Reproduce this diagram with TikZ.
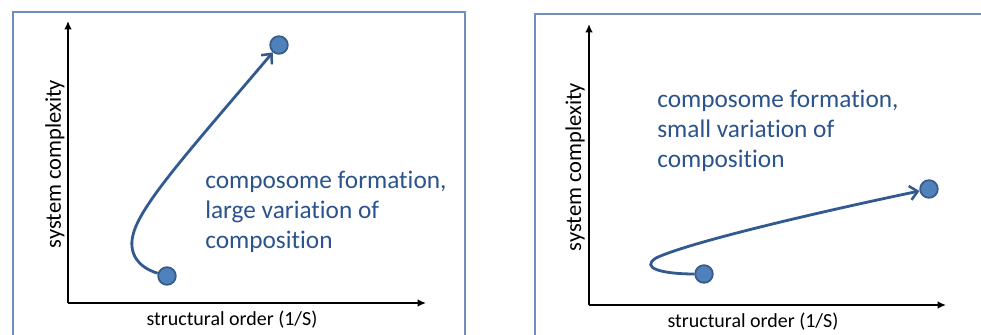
\documentclass[tikz,border=0pt]{standalone}
\usepackage{fontspec}
\setmainfont{Carlito}[Ligatures=NoCommon]
\usepackage{tikz}
\usetikzlibrary{arrows.meta}
\definecolor{framecol}{RGB}{112,142,186}
\definecolor{dotfill}{RGB}{79,129,189}
\definecolor{dotline}{RGB}{56,93,138}
\definecolor{pathcol}{RGB}{50,90,145}
\definecolor{notecol}{RGB}{44,84,140}
\tikzset{
    frame/.style={draw=framecol, line width=1.4pt},
    axis/.style={draw=black, line width=1.4pt, -{Latex[length=6pt,width=5.5pt]}},
    statedot/.style={circle, fill=dotfill, draw=dotline, line width=1.3pt,
        minimum size=12.5pt, inner sep=0pt},
    pathway/.style={draw=pathcol, line width=2pt,
        -{Straight Barb[length=5.5pt,width=10pt,line width=1.8pt]}},
    ylabel/.style={font=\fontsize{16}{19}\selectfont, inner sep=0pt},
    xlabel/.style={font=\fontsize{14.2}{17}\selectfont, inner sep=0pt},
    note/.style={text=notecol, align=left, anchor=west, inner sep=0pt,
        font=\fontsize{18}{21.3}\selectfont},
}
\begin{document}
\begin{tikzpicture}[x=0.025cm, y=-0.025cm]
		\useasboundingbox[fill=white] (0,0) rectangle (981,335);
		% left panel
		\draw[frame] (13,340) -- (13,12) -- (465,12) -- (465,340);
		\coordinate (o1) at (68,303);
		\coordinate (ytop1) at (68,21);
		\coordinate (xend1) at (426,303);
		\draw[axis] (o1) -- (ytop1);
		\draw[axis] (o1) -- (xend1);
		\node[ylabel, rotate=90] (ylab1) at (55,164) {system complexity};
		\node[xlabel] (xlab1) at (232,320) {structural order (1/S)};
		\node[statedot] (start1) at (167,276) {};
		\node[statedot] (end1) at (279,45) {};
		\draw[pathway] (start1) .. controls (140,268) and (128,255) .. (133,235)
			.. controls (140,205) and (190,150) .. (end1);
		\node[note] (note1) at (205,212) {composome formation,\\large variation of\\composition};
		% right panel
		\draw[frame] (535,340) -- (535,14) -- (985,14);
		\coordinate (o2) at (589,305);
		\coordinate (ytop2) at (589,24);
		\coordinate (xend2) at (946,305);
		\draw[axis] (o2) -- (ytop2);
		\draw[axis] (o2) -- (xend2);
		\node[ylabel, rotate=90] (ylab2) at (575,167) {system complexity};
		\node[xlabel] (xlab2) at (753,322) {structural order (1/S)};
		\node[statedot] (start2) at (704,274) {};
		\node[statedot] (end2) at (929,189) {};
		\draw[pathway] (start2) .. controls (662,274) and (640,268) .. (656,258)
			.. controls (685,244) and (800,216) .. (end2);
		\node[note] (note2) at (657,131) {composome formation,\\small variation of\\composition};
\end{tikzpicture}
\end{document}
